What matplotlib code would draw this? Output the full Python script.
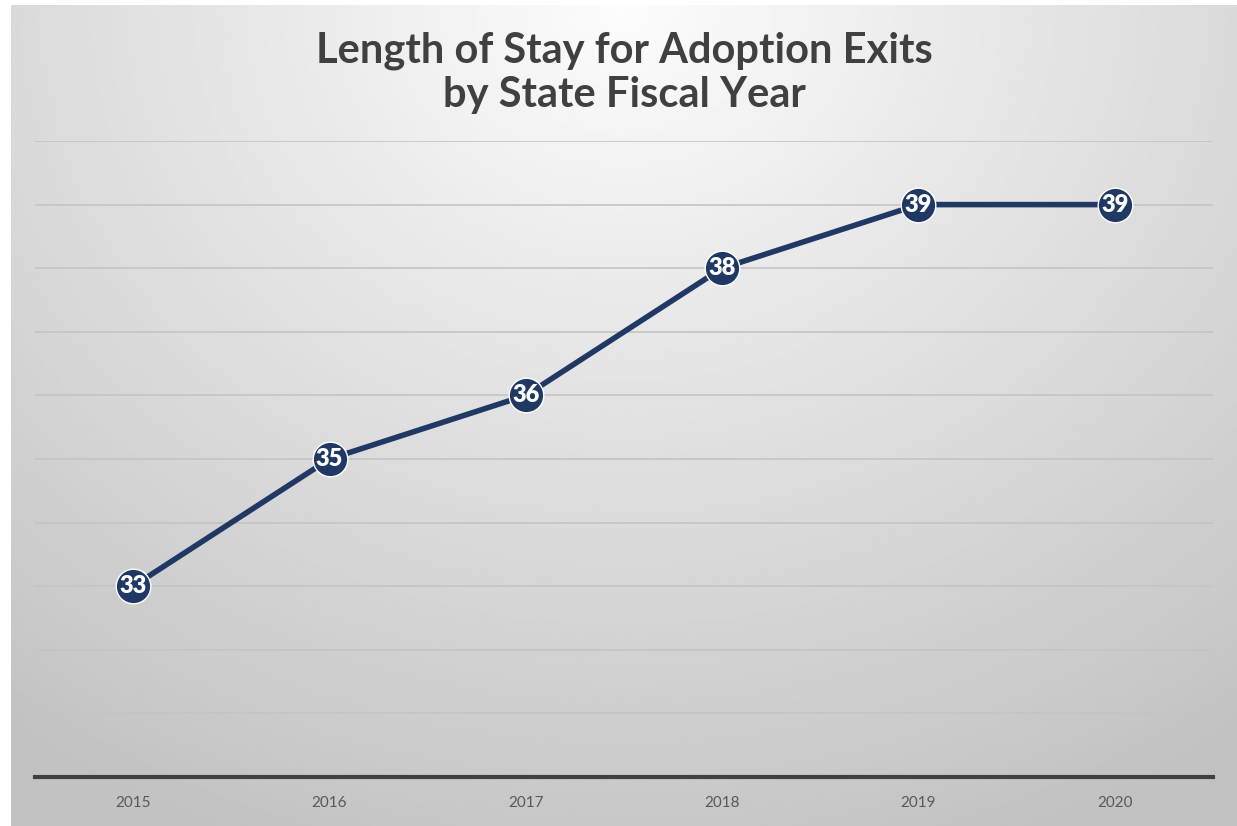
import numpy as np
import matplotlib.pyplot as plt

years = ['2015', '2016', '2017', '2018', '2019', '2020']
months = [33, 35, 36, 38, 39, 39]

title = 'Length of Stay for Adoption Exits\nby State Fiscal Year'

fig = plt.figure(figsize=(12.37, 8.26), dpi=100)
fig.patch.set_facecolor('white')

# gradient panel behind the chart
bg = fig.add_axes([11 / 1237, 0, 1 - 11 / 1237, 1 - 5 / 826])
bg.set_axis_off()
yy, xx = np.mgrid[0:1:300j, 0:1:450j]
d = np.sqrt(((xx - 0.5) * 1.3) ** 2 + (yy * 1.0) ** 2)
shade = 0.99 - 0.23 * np.clip(d / 1.1, 0, 1)
bg.imshow(shade, cmap='gray', vmin=0, vmax=1, aspect='auto', extent=[0, 1, 1, 0])

ax = fig.add_axes([35 / 1237, 1 - 777 / 826, (1213 - 35) / 1237, (777 - 141) / 826])
ax.patch.set_alpha(0)
x = np.arange(len(years))

ax.set_xlim(-0.5, len(years) - 0.5)
ax.set_ylim(30, 40)
for v in range(31, 41):
    ax.axhline(v, color='#c4c4c4', lw=1.2, zorder=1)

ax.plot(x, months, color='#1f3864', lw=4, zorder=3)
ax.scatter(x, months, s=620, color='#1f3864', edgecolor='white', linewidth=1.0, zorder=4)
for xi, v in zip(x, months):
    ax.text(xi, v, str(v), ha='center', va='center', color='white',
            fontsize=17, fontweight='heavy', family='Lato', zorder=5)

for s in ['left', 'right', 'top']:
    ax.spines[s].set_visible(False)
ax.spines['bottom'].set_color('#404040')
ax.spines['bottom'].set_linewidth(3)
ax.set_yticks([])
ax.set_xticks(x)
ax.set_xticklabels(years, fontsize=11, color='#595959', family='Lato')
ax.tick_params(axis='x', length=0, pad=14)

fig.text(0.505, 1 - 73 / 826, title, ha='center', va='center', fontsize=30,
         fontweight='bold', color='#404040', family='Lato', linespacing=1.2)

plt.savefig('out.png', dpi=100)
